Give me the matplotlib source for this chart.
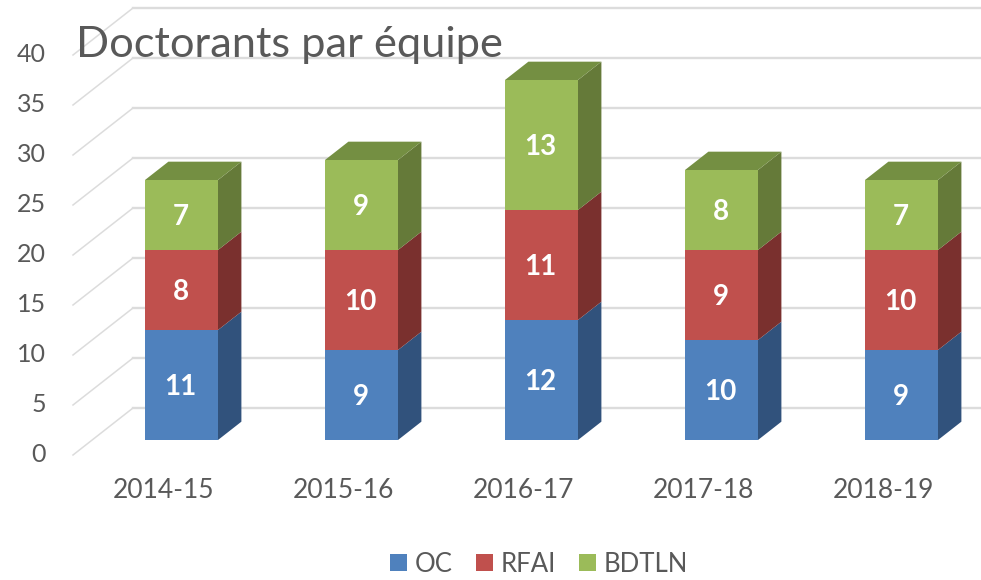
import matplotlib
matplotlib.use('Agg')
import matplotlib.pyplot as plt
from matplotlib.patches import Patch, Polygon

plt.rcParams['font.family'] = ['Lato', 'DejaVu Sans']

years = ['2014-15', '2015-16', '2016-17', '2017-18', '2018-19']
oc = [11, 9, 12, 10, 9]
rfai = [8, 10, 11, 9, 10]
bdtln = [7, 9, 13, 8, 7]
series_names = ['OC', 'RFAI', 'BDTLN']
yticks = [0, 5, 10, 15, 20, 25, 30, 35, 40]

front_colors = ['#4F81BD', '#C0504D', '#9BBB59']
side_colors = ['#31527C', '#7A302E', '#657A39']
top_colors = ['#3E6695', '#984039', '#748F42']
grid_color = '#DCDCDC'
text_color = '#595959'

W, H = 981, 580
PX_X = 180.0   # pixels per category
PX_Y = 10.0    # pixels per unit
X0, Y0 = 181.5, 440.0   # pixel of category 0, value 0 on the bar front
BAR_W = 73 / PX_X
DX, DY = 60 / PX_X, 47 / PX_Y   # one depth unit of the fake 3d box
Z_FRONT, Z_BAR, Z_WALL = -0.32, 0.39, 0.68


def project(x, v, z=0.0):
    return x + z * DX, v + z * DY


def bar_faces(ax, x, v0, v1, idx, with_top):
    l, r = x - BAR_W / 2, x + BAR_W / 2
    ax.add_patch(Polygon([project(r, v0), project(r, v0, Z_BAR), project(r, v1, Z_BAR), project(r, v1)],
                         fc=side_colors[idx], ec='none', zorder=3))
    if with_top:
        ax.add_patch(Polygon([project(l, v1), project(r, v1), project(r, v1, Z_BAR), project(l, v1, Z_BAR)],
                             fc=top_colors[idx], ec='none', zorder=3))
    ax.add_patch(Polygon([project(l, v0), project(r, v0), project(r, v1), project(l, v1)],
                         fc=front_colors[idx], ec='none', zorder=4))


fig = plt.figure(figsize=(W / 100, H / 100), dpi=100)
ax = fig.add_axes([0, 0, 1, 1])
ax.set_xlim(-X0 / PX_X, (W - X0) / PX_X)
ax.set_ylim((Y0 - H) / PX_Y, Y0 / PX_Y)
ax.axis('off')

# walls
xmax = ax.get_xlim()[1]
for v in yticks:
    a = project(-X0 / PX_X + 73 / PX_X, v - 1.5, 0)
    start = (a[0], a[1])
    corner = (start[0] + DX, start[1] + DY)
    ax.plot([start[0], corner[0]], [start[1], corner[1]], color=grid_color, lw=1.1, zorder=1)
    ax.plot([corner[0], xmax], [corner[1], corner[1]], color=grid_color, lw=1.7, zorder=1)
    ax.annotate(str(v), xy=start, xytext=(-27, 1), textcoords='offset pixels',
                ha='right', va='center', fontsize=18, color=text_color)

# bars
for i, year in enumerate(years):
    bottom = 0
    for idx, vals in enumerate([oc, rfai, bdtln]):
        top = bottom + vals[i]
        bar_faces(ax, i, bottom, top, idx, idx == 2)
        ax.annotate(str(vals[i]), xy=(i, (bottom + top) / 2), xytext=(-1, -2), textcoords='offset pixels',
                    ha='center', va='center', fontsize=20, fontweight='bold', color='white', zorder=5)
        bottom = top
    ax.annotate(year, xy=project(i, 0, Z_FRONT), xytext=(1, -35), textcoords='offset pixels',
                ha='center', va='center', fontsize=19, color=text_color)

ax.text(76 / W, 1 - 57 / H, 'Doctorants par équipe', transform=ax.transAxes,
        ha='left', va='baseline', fontsize=31.2, color=text_color, zorder=6)

handles = [Patch(fc=c, ec='none', label=n) for c, n in zip(front_colors, series_names)]
ax.legend(handles=handles, loc='center', bbox_to_anchor=(539 / W, 1 - 564 / H), ncol=3,
          frameon=False, fontsize=18.5, labelcolor=text_color, handlelength=0.66,
          handleheight=0.66, handletextpad=0.3, columnspacing=0.9)

fig.savefig('out.png', dpi=100)
